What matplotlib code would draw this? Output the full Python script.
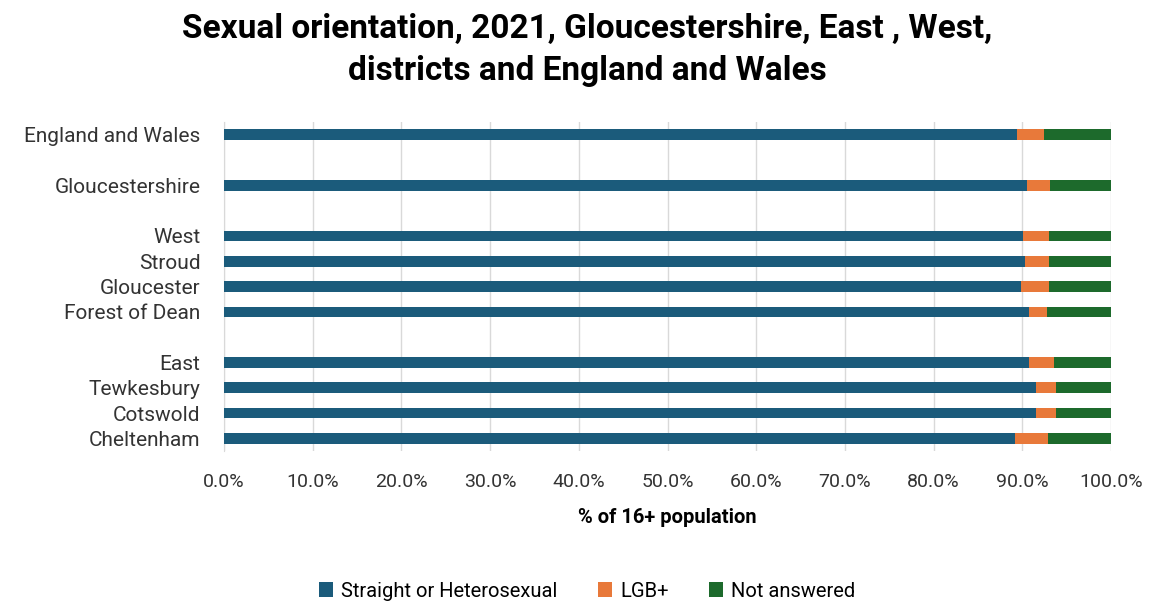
import matplotlib.pyplot as plt
import numpy as np

plt.rcParams['font.family'] = ['Roboto', 'DejaVu Sans']

# bottom to top, blank strings are the gaps between groups
areas = ["Cheltenham", "Cotswold", "Tewkesbury", "East", "",
         "Forest of Dean", "Gloucester", "Stroud", "West", "",
         "Gloucestershire", "", "England and Wales"]
straight = [89.2, 91.5, 91.5, 90.7, np.nan, 90.7, 89.8, 90.3, 90.1, np.nan, 90.5, np.nan, 89.4]
lgb = [3.7, 2.3, 2.3, 2.9, np.nan, 2.1, 3.2, 2.7, 2.9, np.nan, 2.6, np.nan, 3.0]
not_answered = [100 - s - l for s, l in zip(straight, lgb)]

series = ["Straight or Heterosexual", "LGB+", "Not answered"]
colors = ["#1b5b7b", "#e8793a", "#1d6a2c"]

fig = plt.figure(figsize=(11.51, 6.05), dpi=100)
ax = fig.add_axes([0.1946, 0.2545, 0.7707, 0.5438])

y = np.arange(len(areas))
left = np.zeros(len(areas))
for vals, name, c in zip([straight, lgb, not_answered], series, colors):
    v = np.nan_to_num(np.array(vals, dtype=float))
    ax.barh(y, v / 100, left=left, height=0.42, color=c, label=name, zorder=3)
    left += v / 100

ax.set_xlim(0, 1)
ax.set_ylim(-0.5, len(areas) - 0.5)
ax.set_yticks(y)
ax.set_yticklabels(areas, fontsize=15, color="#333333")
ax.set_xticks(np.arange(0, 1.01, 0.1))
ax.set_xticklabels([f"{t:.1f}%" for t in np.arange(0, 100.1, 10)], fontsize=14, color="#333333")
ax.tick_params(length=0)
ax.tick_params(axis="y", pad=17)
ax.tick_params(axis="x", pad=16)
ax.grid(axis="x", color="#d9d9d9", linewidth=1, zorder=0)
for s in ["top", "right", "bottom"]:
    ax.spines[s].set_visible(False)
ax.spines["left"].set_color("#d9d9d9")

ax.set_xlabel("% of 16+ population", fontsize=14.5, fontweight="bold", labelpad=12)

fig.suptitle("Sexual orientation, 2021, Gloucestershire, East , West,\ndistricts and England and Wales",
             fontsize=24, fontweight="bold", y=0.978, x=0.51, linespacing=1.4)

fig.legend(loc="center", bbox_to_anchor=(0.51, 0.023), ncol=3, frameon=False,
           fontsize=14.5, handlelength=0.7, handleheight=0.7, columnspacing=2.0, handletextpad=0.4)

fig.savefig("out.png", dpi=100)
